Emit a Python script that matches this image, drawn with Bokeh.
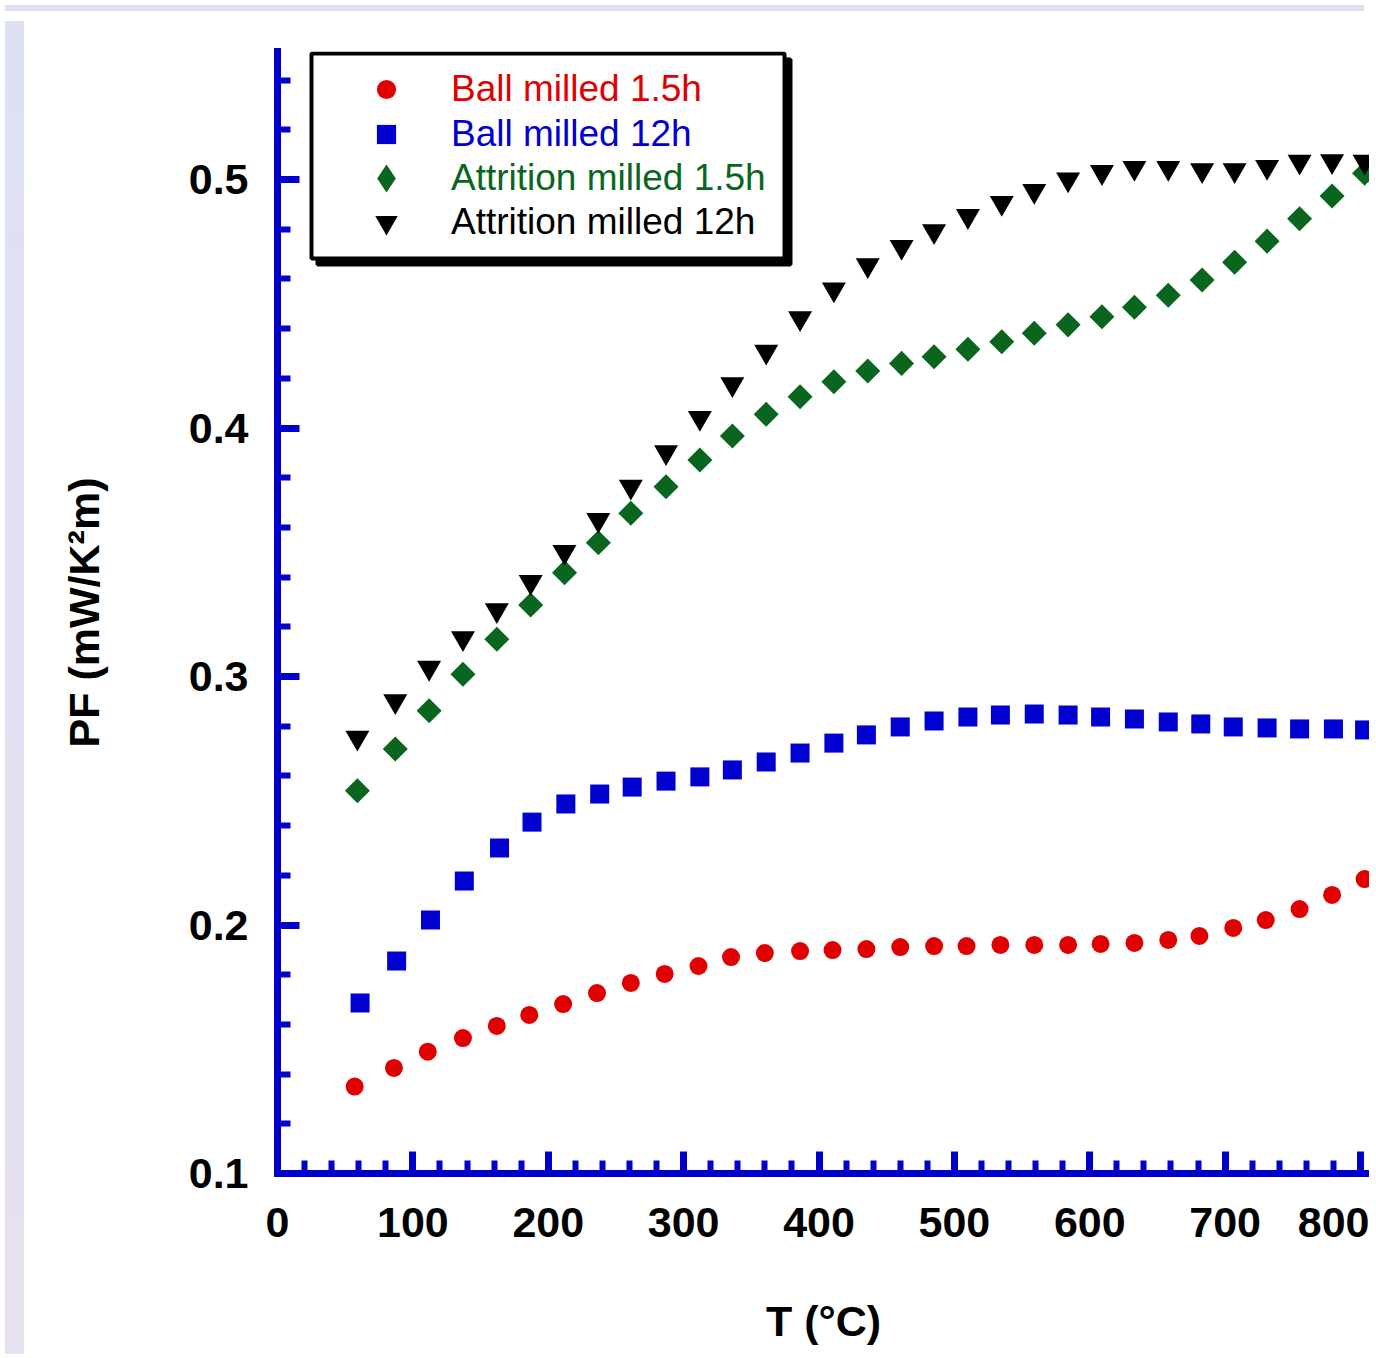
import numpy as np
from bokeh.plotting import figure
from bokeh.models import Range1d, FixedTicker, Legend, LegendItem, Div, BoxAnnotation
from bokeh.layouts import column, row
from bokeh.embed import file_html
from bokeh.resources import INLINE

# ---------------- data ----------------
series_names = ["Ball milled 1.5h", "Ball milled 12h", "Attrition milled 1.5h", "Attrition milled 12h"]

t_ball_15 = [57, 86, 111, 137, 162, 186, 211, 236, 261, 286, 311, 335, 360, 386, 410, 435,
             460, 485, 509, 534, 559, 584, 608, 633, 658, 681, 706, 730, 755, 779, 803]
pf_ball_15 = [0.1350, 0.1425, 0.1490, 0.1545, 0.1594, 0.1638, 0.1682, 0.1726, 0.1767, 0.1803,
              0.1835, 0.1871, 0.1887, 0.1895, 0.1899, 0.1903, 0.1911, 0.1915, 0.1915, 0.1920,
              0.1920, 0.1920, 0.1924, 0.1928, 0.1940, 0.1956, 0.1988, 0.2020, 0.2064, 0.2121, 0.2185]

t_ball_12 = [61, 88, 113, 138, 164, 188, 213, 238, 262, 287, 312, 336, 361, 386, 411, 435,
             460, 485, 510, 534, 559, 584, 608, 633, 658, 682, 706, 731, 755, 780, 803]
pf_ball_12 = [0.1686, 0.1855, 0.2020, 0.2177, 0.2310, 0.2414, 0.2487, 0.2527, 0.2555, 0.2579,
              0.2596, 0.2624, 0.2656, 0.2692, 0.2732, 0.2765, 0.2797, 0.2821, 0.2837, 0.2845,
              0.2849, 0.2845, 0.2837, 0.2829, 0.2817, 0.2809, 0.2797, 0.2793, 0.2789, 0.2789, 0.2785]

t_attr = [59, 87, 112, 137, 162, 187, 212, 237, 261, 287, 312, 336, 361, 386, 411, 436,
          461, 485, 510, 535, 559, 584, 609, 633, 658, 683, 707, 731, 755, 779, 803]
pf_attr_15 = [0.2540, 0.2708, 0.2862, 0.3009, 0.3150, 0.3288, 0.3418, 0.3538, 0.3657, 0.3764,
              0.3871, 0.3968, 0.4055, 0.4126, 0.4186, 0.4229, 0.4260, 0.4287, 0.4317, 0.4347,
              0.4381, 0.4415, 0.4448, 0.4486, 0.4534, 0.4596, 0.4667, 0.4752, 0.4842, 0.4934, 0.5025]
pf_attr_12 = [0.2754, 0.2901, 0.3035, 0.3154, 0.3267, 0.3381, 0.3501, 0.3630, 0.3764, 0.3903,
              0.4041, 0.4176, 0.4307, 0.4442, 0.4558, 0.4655, 0.4729, 0.4792, 0.4853, 0.4906,
              0.4954, 0.5000, 0.5030, 0.5047, 0.5047, 0.5038, 0.5038, 0.5051, 0.5072, 0.5074, 0.5072]

x_major_ticks = list(range(0, 801, 100))
x_minor_ticks = list(range(0, 801, 20))
y_major_ticks = [0.1, 0.2, 0.3, 0.4, 0.5]
y_minor_ticks = [round(0.1 + 0.02 * k, 2) for k in range(23)]

# ---------------- styles ----------------
RED = "#e00000"
BLUE = "#0000d0"
GREEN = "#0a661e"
BLACK = "#000000"
AXIS_BLUE = "#0000cc"
FONT = "Liberation Sans"

OX, OY = 30, 17                      # observed screen position of the canvas origin
W, H = 1340, 1333
FRAME_L, FRAME_T, FRAME_B = 278, 52, 1174   # wanted screen positions of the frame
XS, YS = 1.35375, 2485.0             # pixels per data unit
BL = FRAME_L - OX
BT = FRAME_T - OY
BB = H - (FRAME_B - OY)
X_END = (W - BL) / XS
Y_END = 0.1 + (H - BT - BB) / YS

p = figure(width=W, height=H, output_backend="svg", toolbar_location=None,
           x_range=Range1d(0, X_END), y_range=Range1d(0.1, Y_END),
           min_border_left=BL, min_border_right=0, min_border_top=BT, min_border_bottom=BB,
           x_axis_label="T (°C)", y_axis_label="PF (mW/K²m)")
p.outline_line_color = None
p.grid.visible = False
p.background_fill_color = "white"
p.border_fill_color = "white"

p.xaxis.ticker = FixedTicker(ticks=x_major_ticks, minor_ticks=x_minor_ticks)
p.yaxis.ticker = FixedTicker(ticks=y_major_ticks, minor_ticks=y_minor_ticks)

for ax in (p.xaxis[0], p.yaxis[0]):
    ax.axis_line_color = AXIS_BLUE
    ax.axis_line_width = 7
    ax.axis_line_cap = "square"
    ax.major_tick_line_color = AXIS_BLUE
    ax.major_tick_line_width = 7
    ax.minor_tick_line_color = AXIS_BLUE
    ax.minor_tick_line_width = 6
    ax.major_tick_in = 22
    ax.major_tick_out = 0
    ax.minor_tick_in = 13
    ax.minor_tick_out = 0
    ax.major_label_text_font = FONT
    ax.major_label_text_font_size = "43px"
    ax.major_label_text_font_style = "bold"
    ax.major_label_text_color = "black"
    ax.axis_label_text_font = FONT
    ax.axis_label_text_font_size = "43px"
    ax.axis_label_text_font_style = "bold"
    ax.axis_label_text_color = "black"

p.xaxis.major_label_standoff = 34
p.yaxis.major_label_standoff = 29
p.xaxis.axis_label_standoff = 57
p.yaxis.axis_label_standoff = 78

# ---------------- legend box with drop shadow (placed from pixel layout) ----------------
BOX_LEFT, BOX_TOP, BOX_W, BOX_H = 312, 54, 473, 205
SHADOW = 6


def px_box(left, top, fill):
    return BoxAnnotation(left=(left - FRAME_L) / XS, right=(left + BOX_W - FRAME_L) / XS,
                         top=0.1 + (FRAME_B - top) / YS, bottom=0.1 + (FRAME_B - top - BOX_H) / YS,
                         fill_color=fill, fill_alpha=1, line_color="black", line_alpha=1,
                         line_width=4, level="underlay")


p.add_layout(px_box(BOX_LEFT + SHADOW, BOX_TOP + SHADOW, "black"))
p.add_layout(px_box(BOX_LEFT, BOX_TOP, "white"))

# ---------------- data renderers ----------------
r_red = p.scatter(t_ball_15, pf_ball_15, marker="circle", size=18, fill_color=RED, line_color=None)
r_blue = p.scatter(t_ball_12, pf_ball_12, marker="square", size=19, fill_color=BLUE, line_color=None)
# diamond-shaped key for the legend; drawn underneath the rotated squares (fully covered)
green_key = p.scatter(t_attr, pf_attr_15, marker="diamond", size=18, fill_color=GREEN, line_color=None)
r_green = p.scatter(t_attr, pf_attr_15, marker="square", angle=np.pi / 4, size=17.7,
                    fill_color=GREEN, line_color=None)
r_black = p.scatter(t_attr, pf_attr_12, marker="inverted_triangle", size=24, fill_color=BLACK,
                    line_color=None)

# ---------------- coloured legend rows ----------------
GLYPH_X, LABEL_X = 387, 452
row_y = [90, 134.5, 179, 223]
item_specs = [(r_red, RED, 48), (r_blue, BLUE, 48), (green_key, GREEN, 70), (r_black, BLACK, 56)]

for (rend, col, gw), name, yc in zip(item_specs, series_names, row_y):
    left = GLYPH_X - gw / 2
    loc = (left - FRAME_L, FRAME_B - yc - gw / 2)
    lg = Legend(items=[LegendItem(label=name, renderers=[rend])], location=loc,
                orientation="vertical", padding=0, margin=0, spacing=0, title_standoff=0,
                glyph_width=gw, glyph_height=gw, label_height=gw,
                label_standoff=int(round(LABEL_X - GLYPH_X - gw / 2)),
                label_text_font=FONT, label_text_font_size="37px", label_text_color=col,
                background_fill_alpha=0, border_line_alpha=0)
    p.add_layout(lg)

# ---------------- page background strips ----------------
top_strip = Div(text="", width=W + 19, height=6,
                styles={"background": "#dde0f2"})
left_strip = Div(text="", width=19, height=H,
                 styles={"background": "linear-gradient(180deg, #dde0f3 0%, #e7e0f1 100%)"})
page = column(top_strip, row(left_strip, p))

open("out.html", "w").write(file_html(page, INLINE))
